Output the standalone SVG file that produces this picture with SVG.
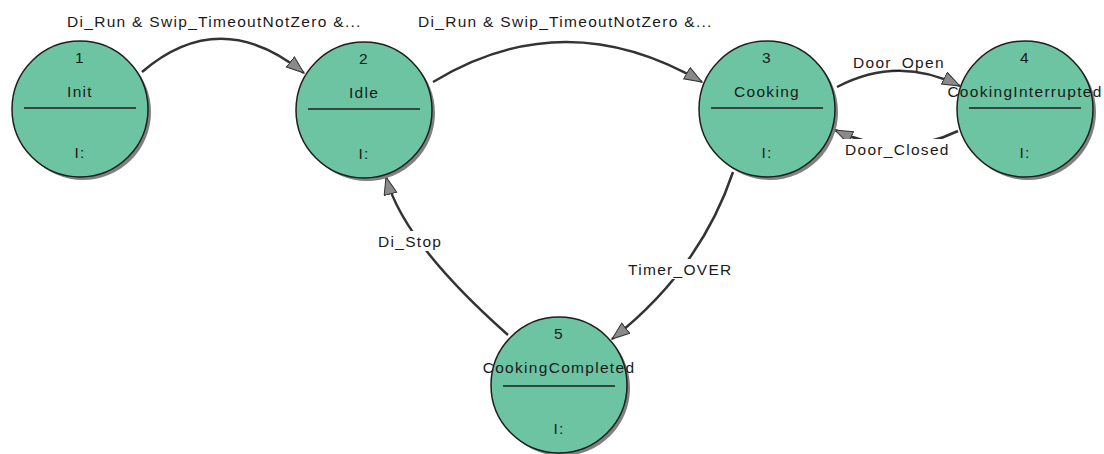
<svg xmlns="http://www.w3.org/2000/svg" width="1104" height="454" viewBox="0 0 1104 454">
<style>
text{font-family:"Liberation Sans",Arial,sans-serif;font-size:15.5px;letter-spacing:1.3px;fill:#1a1a1a}
.n{text-anchor:middle}
.shadow{fill:#808080}
.st{fill:#6cc4a2;stroke:#1e1e1e;stroke-width:1.5}
.div{stroke:#1e1e1e;stroke-width:1.5}
.c{fill:none;stroke:#333;stroke-width:2.5;marker-end:url(#arr)}
.bg{fill:#fff}
</style>
<defs>
<marker id="arr" markerUnits="userSpaceOnUse" markerWidth="20" markerHeight="16" refX="18" refY="7" orient="auto">
<path d="M0.5,0.5 L18,7 L0.5,13.5 z" fill="#8a8a8a" stroke="#333" stroke-width="1"/>
</marker>
</defs>
<rect width="1104" height="454" fill="#fff"/>
<g id="connectors">
<path class="c" d="M142,72 Q220,5 304,73"/>
<path class="c" d="M433,82 Q565,2 702,82"/>
<path class="c" d="M837,87 Q898,55 960,86"/>
<path class="c" d="M958,131 Q898,160 835,130"/>
<path class="c" d="M733,172 Q700,270 612,339"/>
<path class="c" d="M508,335 Q403,242 386,177"/>
<text x="67" y="27">Di_Run &amp; Swip_TimeoutNotZero &amp;...</text>
<text x="418" y="27">Di_Run &amp; Swip_TimeoutNotZero &amp;...</text>
<text x="853" y="68">Door_Open</text>
<rect class="bg" x="843" y="139" width="102" height="20"/>
<text x="845" y="155">Door_Closed</text>
<rect class="bg" x="376" y="231" width="68" height="20"/>
<text x="378" y="247">Di_Stop</text>
<rect class="bg" x="626" y="259" width="110" height="20"/>
<text x="628" y="275">Timer_OVER</text>
</g>
<g id="node1">
<circle class="shadow" cx="83" cy="112" r="68"/>
<circle class="st" cx="80" cy="109" r="68"/>
<line class="div" x1="24" y1="108" x2="136" y2="108"/>
<text class="n" x="80" y="63">1</text>
<text class="n" x="80" y="97">Init</text>
<text class="n" x="80" y="158">I:</text>
</g>
<g id="node2">
<circle class="shadow" cx="367" cy="113" r="68"/>
<circle class="st" cx="364" cy="110" r="68"/>
<line class="div" x1="308" y1="109" x2="420" y2="109"/>
<text class="n" x="364" y="64">2</text>
<text class="n" x="364" y="98">Idle</text>
<text class="n" x="364" y="159">I:</text>
</g>
<g id="node3">
<circle class="shadow" cx="770" cy="112" r="68"/>
<circle class="st" cx="767" cy="109" r="68"/>
<line class="div" x1="711" y1="108" x2="823" y2="108"/>
<text class="n" x="767" y="63">3</text>
<text class="n" x="767" y="97">Cooking</text>
<text class="n" x="767" y="158">I:</text>
</g>
<g id="node4">
<circle class="shadow" cx="1028" cy="112" r="68"/>
<circle class="st" cx="1025" cy="109" r="68"/>
<line class="div" x1="969" y1="108" x2="1081" y2="108"/>
<text class="n" x="1025" y="63">4</text>
<text class="n" x="1025" y="97">CookingInterrupted</text>
<text class="n" x="1025" y="158">I:</text>
</g>
<g id="node5">
<circle class="shadow" cx="562" cy="388" r="68"/>
<circle class="st" cx="559" cy="385" r="68"/>
<line class="div" x1="503" y1="386" x2="615" y2="386"/>
<text class="n" x="559" y="339">5</text>
<text class="n" x="559" y="373">CookingCompleted</text>
<text class="n" x="559" y="434">I:</text>
</g>
</svg>
